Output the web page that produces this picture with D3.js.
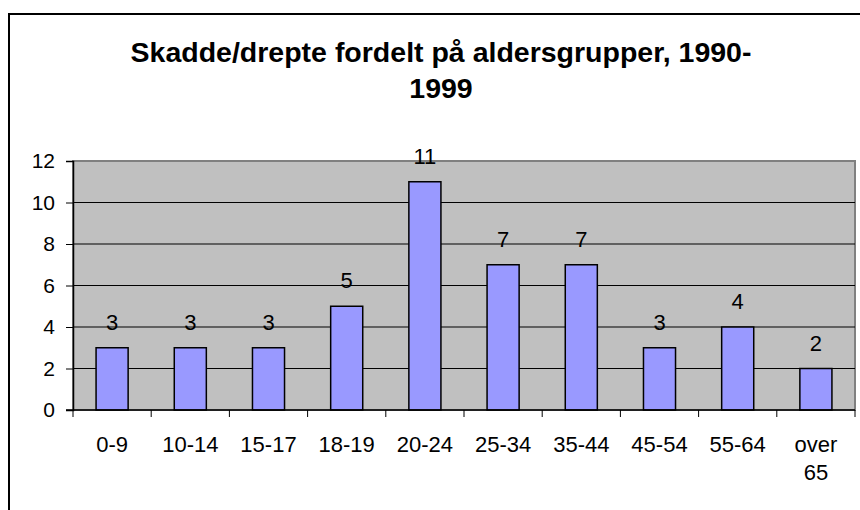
<!DOCTYPE html>
<html>
<head>
<meta charset="utf-8">
<script src="https://cdn.jsdelivr.net/npm/d3@7"></script>
<style>
  body { margin: 0; background: #fff; }
  svg text { font-family: "Liberation Sans", Arial, sans-serif; fill: #000; }
</style>
</head>
<body>
<div id="container"></div>
<script>
const categories = ['0-9', '10-14', '15-17', '18-19', '20-24', '25-34', '35-44', '45-54', '55-64', 'over 65'],
  values = [3, 3, 3, 5, 11, 7, 7, 3, 4, 2],
  yTicks = [0, 2, 4, 6, 8, 10, 12],
  titleLines = ['Skadde/drepte fordelt på aldersgrupper, 1990-', '1999'];

const width = 860, height = 510,
  plot = { left: 73, right: 855, top: 161, bottom: 410 };

const svg = d3.select('#container')
  .append('svg')
    .attr('width', width)
    .attr('height', height);

// chart area border (right edge runs off the picture)
svg.append('rect')
  .attr('x', 9).attr('y', 14)
  .attr('width', 870).attr('height', 510)
  .attr('fill', '#fff')
  .attr('stroke', '#000')
  .attr('stroke-width', 2);

svg.append('g')
  .attr('font-weight', 'bold')
  .attr('font-size', 28.5)
  .attr('text-anchor', 'middle')
  .selectAll('text')
  .data(titleLines)
  .enter()
  .append('text')
    .attr('x', 441)
    .attr('y', (d, i) => 62 + i * 36)
    .text(d => d);

const x = d3.scaleBand()
    .domain(categories)
    .range([plot.left, plot.right]),
  y = d3.scaleLinear()
    .domain([0, 12])
    .range([plot.bottom, plot.top]);

// plot area
svg.append('rect')
  .attr('x', plot.left).attr('y', plot.top)
  .attr('width', plot.right - plot.left)
  .attr('height', plot.bottom - plot.top)
  .attr('fill', '#c0c0c0')
  .attr('stroke', '#808080')
  .attr('stroke-width', 2);

// gridlines
svg.append('g')
  .selectAll('line')
  .data(yTicks.slice(1, -1))
  .enter()
  .append('line')
    .attr('x1', plot.left).attr('x2', plot.right)
    .attr('y1', d => y(d)).attr('y2', d => y(d))
    .attr('stroke', '#000')
    .attr('stroke-width', 1);

const barW = x.bandwidth() * 0.41;
svg.append('g')
  .selectAll('rect')
  .data(values)
  .enter()
  .append('rect')
    .attr('x', (d, i) => x(categories[i]) + x.bandwidth() / 2 - barW / 2)
    .attr('y', d => y(d))
    .attr('width', barW)
    .attr('height', d => y(0) - y(d))
    .attr('fill', '#9999ff')
    .attr('stroke', '#000')
    .attr('stroke-width', 1.5);

svg.append('g')
  .attr('font-size', 22)
  .attr('text-anchor', 'middle')
  .selectAll('text')
  .data(values)
  .enter()
  .append('text')
    .attr('x', (d, i) => x(categories[i]) + x.bandwidth() / 2)
    .attr('y', d => y(d) - 18)
    .text(d => d);

// y axis
const yAxis = d3.axisLeft(y).tickValues(yTicks).tickSize(7).tickPadding(11);
const yg = svg.append('g')
  .attr('transform', `translate(${plot.left},0)`)
  .call(yAxis);
yg.select('.domain').attr('stroke', '#000').attr('stroke-width', 1.5);
yg.selectAll('.tick line').attr('stroke', '#000');
yg.selectAll('text').attr('font-size', 21).attr('font-family', null);

// x axis with ticks at category boundaries
const xg = svg.append('g');
xg.append('line')
  .attr('x1', plot.left - 7).attr('x2', plot.right)
  .attr('y1', plot.bottom).attr('y2', plot.bottom)
  .attr('stroke', '#000').attr('stroke-width', 1.5);
xg.selectAll('line.tick')
  .data(categories.map(c => x(c)).concat([plot.right]))
  .enter()
  .append('line')
    .attr('class', 'tick')
    .attr('x1', d => d).attr('x2', d => d)
    .attr('y1', plot.bottom).attr('y2', plot.bottom + 7)
    .attr('stroke', '#000');
xg.selectAll('text')
  .data(categories)
  .enter()
  .append('text')
    .attr('font-size', 22)
    .attr('text-anchor', 'middle')
    .attr('x', d => x(d) + x.bandwidth() / 2)
    .attr('y', 452)
    .each(function(d) {
      const words = d.split(' ');
      d3.select(this).selectAll('tspan')
        .data(words)
        .enter()
        .append('tspan')
          .attr('x', x(d) + x.bandwidth() / 2)
          .attr('dy', (w, i) => i ? 28 : 0)
          .text(w => w);
    });
</script>
</body>
</html>
